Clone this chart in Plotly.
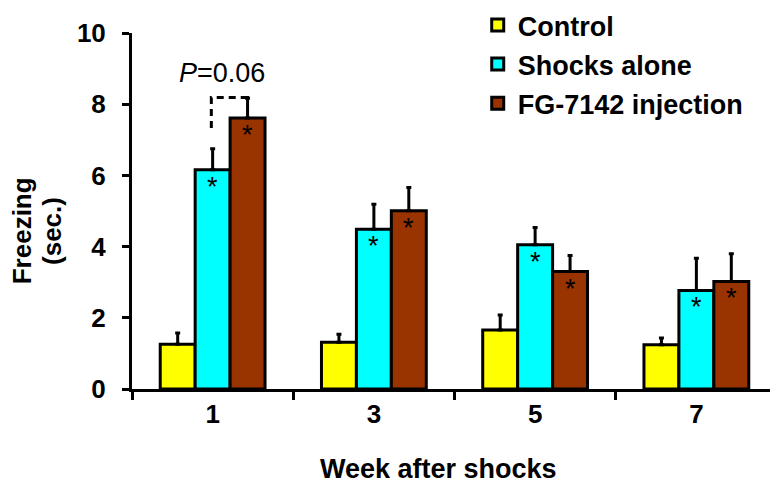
import plotly.graph_objects as go

weeks = ["1", "3", "5", "7"]
control = [1.26, 1.31, 1.66, 1.24]
control_err = [0.31, 0.23, 0.42, 0.19]
shocks = [6.16, 4.49, 4.05, 2.77]
shocks_err = [0.59, 0.70, 0.49, 0.90]
fg = [7.61, 5.01, 3.30, 3.02]
fg_err = [0.56, 0.65, 0.45, 0.78]
series_names = ["Control", "Shocks alone", "FG-7142 injection"]
colors = ["#FFFF00", "#00FFFF", "#993300"]

FONT = "Liberation Sans, Arial, sans-serif"
BARGAP = 0.35
bw = (1 - BARGAP) / 3

fig = go.Figure()
for name, vals, errs, col in zip(series_names, [control, shocks, fg],
                                 [control_err, shocks_err, fg_err], colors):
    fig.add_trace(go.Bar(
        x=weeks, y=vals, name=name, legendgroup=name,
        marker=dict(color=col, line=dict(color="black", width=3)),
        error_y=dict(type="data", array=errs, arrayminus=[0] * len(errs),
                     symmetric=False, color="black", thickness=3, width=2.5),
    ))

# asterisks inside the shock / FG bars
for i in range(len(weeks)):
    for off, vals in [(0.0, shocks), (bw, fg)]:
        fig.add_annotation(x=i + off, y=vals[i], text="*", showarrow=False,
                           xref="x", yref="y", yshift=-17, xanchor="center",
                           font=dict(family=FONT, size=27, color="black"))

# P = 0.06 bracket
fig.add_shape(type="path", xref="x", yref="y",
              path=f"M {0 - 0.008},7.33 L {0 - 0.008},8.19 L {bw},8.19 L {bw},8.1",
              line=dict(color="black", width=3, dash="7px,5px"))
fig.add_annotation(x=0.06, y=8.87, xref="x", yref="y", showarrow=False,
                   xanchor="center", yanchor="middle",
                   text="<i>P</i>=0.06",
                   font=dict(family=FONT, size=27, color="black"))

# axis titles
fig.add_annotation(x=-0.171, y=0.445, xref="paper", yref="paper", showarrow=False,
                   xanchor="center", yanchor="middle",
                   text="<b>Freezing</b>", textangle=-90,
                   font=dict(family=FONT, size=26, color="black"))
fig.add_annotation(x=-0.125, y=0.445, xref="paper", yref="paper", showarrow=False,
                   xanchor="center", yanchor="middle",
                   text="<b>(sec.)</b>", textangle=-90,
                   font=dict(family=FONT, size=26, color="black"))
fig.add_annotation(x=0.475, y=-0.225, xref="paper", yref="paper", showarrow=False,
                   xanchor="center", yanchor="middle",
                   text="<b>Week after shocks</b>",
                   font=dict(family=FONT, size=27, color="black"))

fig.update_layout(
    width=778, height=484,
    margin=dict(l=124, r=9, t=25, b=103, autoexpand=False),
    paper_bgcolor="white", plot_bgcolor="white",
    barmode="group", bargap=BARGAP, bargroupgap=0,
    font=dict(family=FONT, size=26, color="black"),
    showlegend=True,
    legend=dict(x=0.536, y=1.09, xanchor="left", yanchor="top",
                traceorder="grouped", tracegroupgap=1,
                bgcolor="rgba(0,0,0,0)",
                font=dict(family=FONT, size=27, color="black", weight="bold")),
    xaxis=dict(type="category", showline=True, linecolor="black", linewidth=3,
               ticks="outside", ticklen=8, tickwidth=3, tickcolor="black",
               tickson="boundaries", showgrid=False, zeroline=False,
               tickfont=dict(family=FONT, size=26, color="black", weight="bold")),
    yaxis=dict(range=[0, 10], tickvals=[0, 2, 4, 6, 8, 10], showline=True,
               linecolor="black", linewidth=3, ticks="outside", ticklen=7,
               tickwidth=3, tickcolor="black", showgrid=False, zeroline=False,
               ticklabelstandoff=11,
               tickfont=dict(family=FONT, size=26, color="black", weight="bold")),
)

fig.write_html("out.html")
